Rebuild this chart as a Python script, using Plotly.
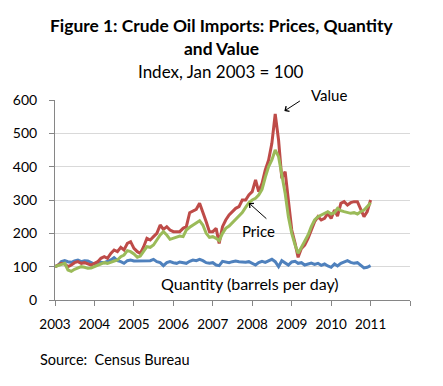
import plotly.graph_objects as go
import pandas as pd

months = pd.date_range("2003-01-01", "2011-01-01", freq="MS").strftime("%Y-%m-%d").tolist()

value = [100, 105, 110, 108, 100, 105, 112, 115, 110, 112, 108, 105,
         110, 115, 125, 130, 125, 140, 150, 145, 158, 150, 170, 175,
         155, 145, 140, 160, 185, 180, 190, 200, 225, 212, 220, 210,
         205, 205, 205, 215, 220, 262, 268, 272, 290, 265, 235, 205,
         205, 215, 170, 220, 240, 255, 265, 275, 280, 300, 300, 315,
         325, 360, 325, 350, 390, 420, 470, 558, 480, 365, 385, 290,
         210, 170, 128, 155, 165, 185, 210, 235, 250, 240, 245, 260,
         245, 270, 252, 290, 295, 285, 292, 295, 295, 275, 250, 265,
         300]

price = [100, 103, 108, 110, 90, 86, 92, 97, 100, 98, 95, 96,
         100, 103, 108, 112, 110, 114, 118, 120, 130, 135, 148, 145,
         138, 128, 132, 145, 160, 158, 165, 180, 195, 205, 195, 182,
         185, 190, 192, 190, 210, 218, 225, 232, 238, 225, 200, 188,
         190, 185, 178, 200, 215, 222, 232, 240, 250, 262, 278, 292,
         300, 305, 315, 332, 368, 400, 420, 450, 430, 380, 320, 250,
         200, 165, 140, 158, 175, 195, 220, 240, 250, 255, 258, 265,
         258, 262, 275, 268, 265, 262, 260, 262, 258, 265, 270, 280,
         292]

quantity = [100, 105, 115, 118, 115, 113, 117, 120, 115, 118, 117, 112,
            108, 110, 113, 112, 115, 120, 127, 118, 115, 110, 118, 120,
            117, 117, 116, 118, 117, 118, 122, 115, 112, 103, 112, 115,
            112, 110, 114, 112, 110, 116, 120, 118, 122, 118, 112, 110,
            112, 105, 103, 116, 113, 112, 115, 117, 115, 114, 113, 115,
            110, 105, 112, 116, 113, 118, 122, 115, 100, 118, 112, 105,
            114, 116, 110, 112, 105, 108, 111, 107, 110, 104, 108, 102,
            98, 108, 102, 110, 115, 118, 113, 110, 112, 105, 96, 98,
            103]

year_ticks = [f"{y}-01-01" for y in range(2003, 2013)]
year_labels = [str(y) for y in range(2003, 2012)] + [""]
y_ticks = [0, 100, 200, 300, 400, 500, 600]

FONT = "Lato"
OFF = 8  # page body margin
W, H = 443, 386
PL, PR, PT, PB = 55 - OFF, 410 - OFF, 100 - OFF, 300 - OFF  # plot area in figure pixels


def px(xp):
    return (xp - OFF - PL) / (PR - PL)


def py(yp):
    return (PB - (yp - OFF)) / (PB - PT)


fig = go.Figure()
fig.add_trace(go.Scatter(x=months, y=quantity, mode="lines", name="Quantity",
                         line=dict(color="#4F81BD", width=3)))
fig.add_trace(go.Scatter(x=months, y=value, mode="lines", name="Value",
                         line=dict(color="#BE4B48", width=3)))
fig.add_trace(go.Scatter(x=months, y=price, mode="lines", name="Price",
                         line=dict(color="#9BBB59", width=3)))

fig.update_layout(
    width=W, height=H,
    margin=dict(l=PL, r=W - PR, t=PT, b=H - PB, autoexpand=False),
    paper_bgcolor="white", plot_bgcolor="white",
    showlegend=False,
    font=dict(family=FONT, color="#000000", size=14),
    xaxis=dict(range=["2003-01-01", "2012-01-01"], tickvals=year_ticks, ticktext=year_labels,
               showgrid=False, showline=True, linecolor="#868686", linewidth=1,
               ticks="outside", ticklen=5, tickcolor="#868686", automargin=False,
               tickfont=dict(family=FONT, size=13.5), ticklabelstandoff=7, zeroline=False),
    yaxis=dict(range=[0, 600], tickvals=y_ticks, showgrid=True, gridcolor="#D9D9D9",
               showline=True, linecolor="#868686", linewidth=1,
               ticks="outside", ticklen=5, tickcolor="#868686", automargin=False,
               tickfont=dict(family=FONT, size=14), ticklabelstandoff=9, zeroline=False),
)

texts = [
    ("<b>Figure 1: Crude Oil Imports: Prices, Quantity</b>", 221, 25, 17.4, "center"),
    ("<b>and Value</b>", 221, 48, 17.4, "center"),
    ("Index, Jan 2003 = 100", 221, 71, 17, "center"),
    ("Source:  Census Bureau", 38, 359, 14.5, "left"),
    ("Value", 329, 95, 15, "center"),
    ("Price", 258, 231, 15, "center"),
    ("Quantity (barrels per day)", 250, 283, 16, "center"),
]
for t, xp, yp, fs, xa in texts:
    fig.add_annotation(xref="paper", yref="paper", x=px(xp), y=py(yp), text=t,
                       xanchor=xa, yanchor="middle", showarrow=False,
                       font=dict(family=FONT, size=fs, color="black"))

# arrows
fig.add_annotation(x="2008-10-25", y=567, ax=17, ay=-11, text="", showarrow=True,
                   arrowhead=4, arrowsize=1.2, arrowwidth=1, arrowcolor="black")
fig.add_annotation(x="2007-12-01", y=291, ax=19, ay=17, text="", showarrow=True,
                   arrowhead=4, arrowsize=1.2, arrowwidth=1, arrowcolor="black")

fig.write_html("out.html")
